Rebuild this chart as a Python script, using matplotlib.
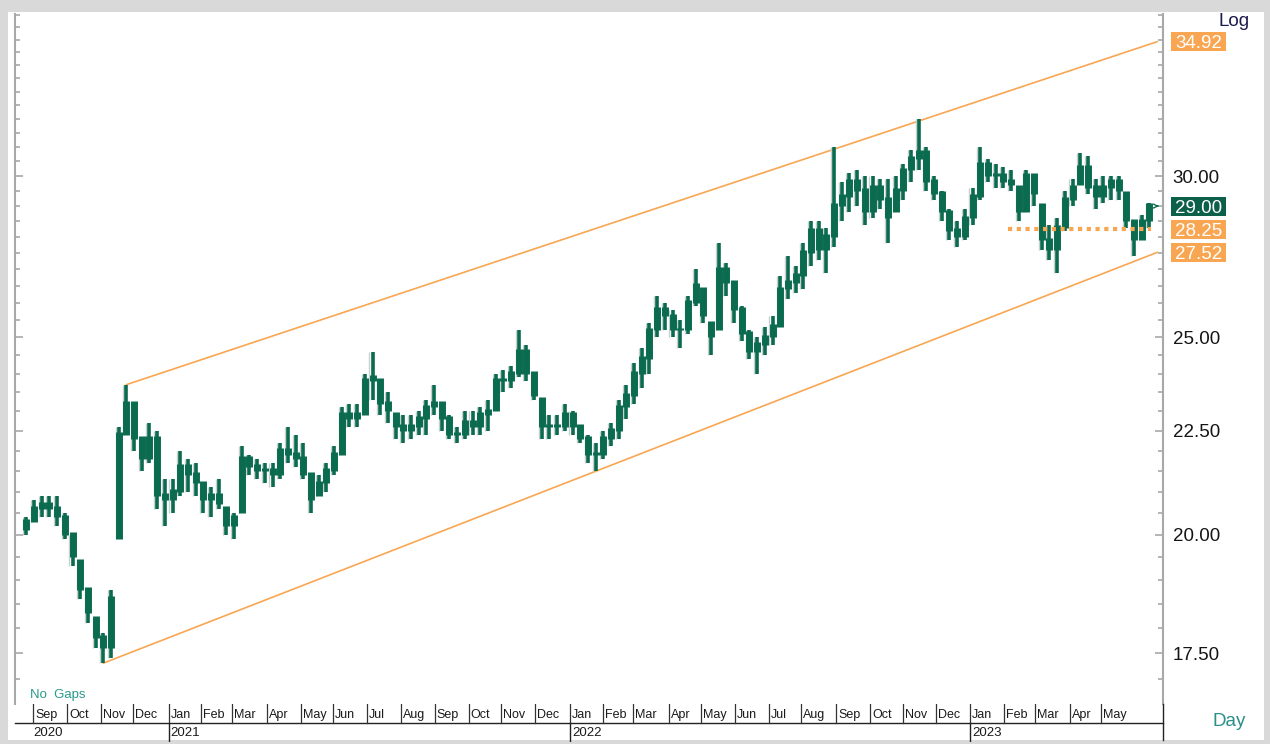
import numpy as np
import pandas as pd
import matplotlib
matplotlib.use("Agg")
import matplotlib.pyplot as plt
from matplotlib.patches import Rectangle
from matplotlib.ticker import FixedLocator, NullFormatter, FixedFormatter
from matplotlib.collections import LineCollection

plt.rcParams['font.family'] = ['Liberation Sans', 'DejaVu Sans']

# ---------------- data (weekly bars) ----------------
first_week = '2020-08-25'
high = [20.4, 20.8, 20.9, 20.9, 20.9, 20.5, 20.0, 19.4, 18.8, 18.2,
        17.9, 18.8, 22.6, 23.7, 23.2, 22.3, 22.7, 22.5, 21.3, 21.3,
        22.0, 21.8, 21.7, 21.2, 21.1, 21.3, 20.6, 20.5, 22.1, 21.9,
        21.8, 21.7, 21.7, 22.2, 22.6, 22.4, 22.2, 21.4, 21.4, 21.7,
        22.1, 23.1, 23.2, 23.2, 24.0, 24.6, 23.8, 23.5, 22.9, 22.9,
        22.9, 23.0, 23.3, 23.7, 23.2, 22.9, 22.6, 23.0, 23.0, 23.1,
        23.3, 24.0, 24.1, 24.2, 25.2, 24.8, 24.0, 23.3, 22.9, 22.9,
        23.2, 23.0, 22.6, 22.4, 22.2, 22.5, 22.7, 23.3, 23.7, 24.3,
        24.7, 25.4, 26.2, 26.0, 25.8, 25.5, 26.2, 27.0, 26.4, 25.4,
        27.8, 27.2, 26.6, 25.9, 25.2, 25.0, 25.3, 25.6, 26.8, 27.4,
        27.1, 27.8, 28.5, 28.5, 28.3, 31.0, 29.8, 30.1, 30.2, 30.0,
        30.0, 29.9, 29.9, 30.0, 30.4, 30.9, 32.0, 31.0, 30.0, 29.5,
        28.9, 28.5, 28.9, 29.6, 31.0, 30.6, 30.4, 30.3, 30.2, 29.6,
        30.2, 30.0, 29.0, 28.4, 28.6, 29.5, 29.9, 30.8, 30.7, 29.9,
        30.0, 30.0, 30.0, 29.4, 28.5, 28.7, 29.1]
low = [20.0, 20.3, 20.4, 20.4, 20.2, 19.9, 19.3, 18.6, 18.1, 17.6,
       17.3, 17.4, 19.9, 22.4, 22.0, 21.5, 21.7, 20.6, 20.2, 20.5,
       20.9, 21.0, 20.9, 20.5, 20.4, 20.6, 20.0, 19.9, 20.5, 21.4,
       21.3, 21.2, 21.1, 21.3, 21.7, 21.6, 21.3, 20.5, 20.9, 21.0,
       21.4, 21.9, 22.6, 22.6, 22.9, 23.3, 22.9, 22.7, 22.3, 22.2,
       22.3, 22.4, 22.4, 22.9, 22.5, 22.3, 22.2, 22.3, 22.4, 22.4,
       22.5, 23.0, 23.5, 23.6, 23.9, 23.8, 23.3, 22.3, 22.3, 22.4,
       22.5, 22.4, 22.2, 21.7, 21.5, 21.8, 22.1, 22.3, 22.8, 23.2,
       23.6, 24.0, 25.0, 25.2, 25.0, 24.7, 25.1, 25.9, 25.4, 24.5,
       25.2, 26.2, 25.4, 24.9, 24.4, 24.0, 24.5, 24.8, 25.3, 26.1,
       26.3, 26.4, 27.1, 27.3, 26.9, 27.7, 28.5, 28.8, 29.0, 28.4,
       28.6, 28.9, 27.8, 28.8, 29.2, 29.8, 30.2, 29.5, 29.2, 28.5,
       27.9, 27.7, 27.9, 28.4, 29.2, 29.8, 29.6, 29.6, 29.5, 28.5,
       28.8, 29.0, 27.6, 27.3, 26.9, 28.2, 29.0, 29.7, 29.4, 28.9,
       29.1, 29.2, 29.2, 28.3, 27.4, 27.9, 28.3]
close = [20.3, 20.6, 20.7, 20.6, 20.4, 20.0, 19.5, 18.8, 18.3, 17.8,
         17.6, 18.6, 22.4, 23.2, 22.3, 21.8, 22.3, 20.9, 20.8, 21.0,
         21.6, 21.4, 21.2, 20.8, 20.9, 20.7, 20.2, 20.4, 21.8, 21.6,
         21.5, 21.5, 21.4, 22.0, 21.9, 21.8, 21.4, 20.8, 21.2, 21.5,
         21.9, 22.9, 22.8, 22.9, 23.8, 23.9, 23.2, 23.0, 22.6, 22.5,
         22.6, 22.8, 23.1, 23.2, 22.8, 22.4, 22.4, 22.7, 22.6, 22.9,
         23.0, 23.8, 23.8, 24.0, 24.6, 24.0, 23.4, 22.6, 22.6, 22.6,
         22.9, 22.6, 22.3, 21.9, 21.9, 22.3, 22.5, 23.1, 23.4, 24.0,
         24.4, 25.2, 25.8, 25.6, 25.2, 25.2, 26.0, 26.5, 25.6, 25.0,
         27.0, 26.6, 25.8, 25.1, 24.6, 24.8, 25.0, 25.3, 26.4, 26.6,
         26.8, 27.5, 28.2, 27.6, 28.0, 29.0, 29.3, 29.8, 29.5, 28.8,
         29.6, 29.2, 28.6, 29.5, 30.2, 30.6, 30.8, 29.8, 29.4, 28.8,
         28.2, 28.0, 28.6, 29.3, 30.4, 30.0, 30.0, 29.8, 29.7, 28.8,
         30.0, 29.4, 27.9, 27.6, 28.3, 29.2, 29.6, 30.3, 29.6, 29.3,
         29.6, 29.8, 29.5, 28.5, 27.9, 28.5, 29.0]
first_open = 20.1

upper_start = ('2020-11-24', 23.7)
upper_end = ('2023-06-20', 34.92)
lower_start = ('2020-11-03', 17.3)
lower_end = ('2023-06-20', 27.52)
support_level = 28.25
support_span = ('2023-02-03', '2023-06-14')
last_price = 29.00

tick_values = [17.5, 20.0, 22.5, 25.0, 30.0]
tick_labels = ['17.50', '20.00', '22.50', '25.00', '30.00']
month_starts = pd.date_range('2020-09-01', '2023-05-01', freq='MS')
year_marks = ['2021-01-01', '2022-01-01', '2023-01-01']

# ---------------- styling ----------------
GREEN = '#0b6b4f'
LIGHT = '#c9cfcc'
ORANGE = '#f9a652'
BOXGREEN = '#0c5f48'
GRAY = '#a8a8a8'
W, H = 1270, 744

fig = plt.figure(figsize=(W / 100, H / 100), dpi=100, facecolor='#d9d9d9')
fig.patches.append(Rectangle((8 / W, 4 / H), (1264 - 8) / W, (740 - 12) / H,
                             transform=fig.transFigure, facecolor='white',
                             edgecolor='none', zorder=-10))

cal = pd.bdate_range('2020-06-01', '2023-08-31')


def pos(d):
    return float(cal.searchsorted(pd.Timestamp(d)))


p21 = pos('2021-01-04')
p23 = pos('2023-01-02')
ppb = 800.0 / (p23 - p21)
xmin = p21 - (171 - 15) / ppb
xmax = p21 + (1163 - 171) / ppb

ax_l, ax_r, ax_t, ax_b = 15, 1163, 14, 704
ax = fig.add_axes([ax_l / W, (H - ax_b) / H, (ax_r - ax_l) / W, (ax_b - ax_t) / H])
ax.set_facecolor('none')
ax.set_yscale('log')
ax.set_xlim(xmin, xmax)
ax.set_ylim(16.52, 36.03)

# bars
weeks = pd.date_range(first_week, periods=len(close), freq='7D')
xs = np.array([pos(d) for d in weeks])
hi = np.array(high)
lo = np.array(low)
cl = np.array(close)
op = np.clip(np.r_[first_open, cl[:-1]], lo, hi)

hl = [[(x, l), (x, h)] for x, l, h in zip(xs, lo, hi)]
body = [[(x, min(o, c)), (x, max(o, c) * 1.003)] for x, o, c in zip(xs, op, cl)]
hl_l = [[(x - 2.0, l), (x - 2.0, h)] for x, l, h in zip(xs, lo, hi)]
ax.add_collection(LineCollection(hl_l, colors=LIGHT, linewidths=1.0, capstyle='butt', zorder=2.5))
ax.add_collection(LineCollection(hl, colors=GREEN, linewidths=2.6, capstyle='butt', zorder=3))
ax.add_collection(LineCollection(body, colors=GREEN, linewidths=5.0, capstyle='butt', zorder=3))

# channel
ax.plot([pos(upper_start[0]), pos(upper_end[0])], [upper_start[1], upper_end[1]],
        color=ORANGE, lw=1.2, zorder=2)
ax.plot([pos(lower_start[0]), pos(lower_end[0])], [lower_start[1], lower_end[1]],
        color=ORANGE, lw=1.2, zorder=2)
ax.plot([pos(support_span[0]), pos(support_span[1])], [support_level, support_level],
        color=ORANGE, lw=3, linestyle=(0, (1, 1.1)), dash_capstyle='butt', zorder=4)

# small arrow after last bar
ax.annotate('', xy=(xs[-1] + 8, last_price), xytext=(xs[-1] + 3, last_price),
            arrowprops=dict(arrowstyle='->', color=GREEN, lw=1.0, mutation_scale=7),
            zorder=5)

# axes styling
for s in ['top', 'bottom']:
    ax.spines[s].set_visible(False)
for s in ['left', 'right']:
    ax.spines[s].set_color(GRAY)
    ax.spines[s].set_linewidth(1.5)
ax.set_xticks([])
ax.yaxis.set_major_locator(FixedLocator(tick_values))
ax.yaxis.set_major_formatter(FixedFormatter(tick_labels))
ax.yaxis.set_minor_locator(FixedLocator(np.arange(16.5, 36.01, 0.5)))
ax.yaxis.set_minor_formatter(NullFormatter())
ax.tick_params(axis='y', which='both', left=True, right=True, direction='in',
               labelleft=False, labelright=True, color=GRAY, labelcolor='#151515')
ax.tick_params(axis='y', which='major', length=6, width=1.2, labelsize=13.5, pad=7)
ax.tick_params(axis='y', which='minor', length=3.5, width=1.2)

# value boxes (fixed pixel size, placed at the value's height)
for val, fc in [(upper_end[1], ORANGE), (last_price, BOXGREEN),
                (support_level, ORANGE), (lower_end[1], ORANGE)]:
    ypx = ax.transData.transform((xmin, val))[1]
    fig.patches.append(Rectangle((1171 / W, (ypx - 9.5) / H), 55 / W, 19 / H,
                                 transform=fig.transFigure, facecolor=fc,
                                 edgecolor='none', zorder=5))
    fig.text(1198.5 / W, ypx / H, f'{val:.2f}', color='white', fontsize=13.5,
             ha='center', va='center_baseline', zorder=6)

fig.text(1218 / W, 1 - 22 / H, 'Log', fontsize=13.5, color='#1b1b4d', ha='left', va='center')
fig.text(1212 / W, 1 - 722 / H, 'Day', fontsize=13.5, color='#2a8f87', ha='left', va='center')
fig.text(30 / W, 1 - 695 / H, 'No  Gaps', fontsize=9.5, color='#2a9a8a', ha='left', va='center')

# date strip
axd = fig.add_axes([ax_l / W, (H - 742) / H, (ax_r - ax_l) / W, (742 - ax_b) / H])
axd.set_xlim(xmin, xmax)
axd.set_ylim(0, 1)
axd.axis('off')
axd.plot([xmin, xmax], [0.5, 0.5], color='#222222', lw=1.0, clip_on=False)
for m in month_starts:
    x = pos(m) - 0.5
    axd.plot([x, x], [0.5, 1.0], color='#333333', lw=0.9)
    axd.text(x + 2 / ppb, 0.72, m.strftime('%b'), fontsize=9, color='#1a1a1a',
             ha='left', va='center')
for y in year_marks:
    x = pos(y) - 0.5
    axd.plot([x, x], [0.0, 0.5], color='#222222', lw=1.0)
    axd.text(x + 2 / ppb, 0.24, y[:4], fontsize=9.5, color='#1a1a1a', ha='left', va='center')
axd.plot([xmax, xmax], [0.05, 1.0], color='#222222', lw=1.0, clip_on=False)
axd.text(xmin + 18 / ppb, 0.24, '2020', fontsize=9.5, color='#1a1a1a', ha='left', va='center')

fig.savefig('out.png', dpi=100, facecolor=fig.get_facecolor())
